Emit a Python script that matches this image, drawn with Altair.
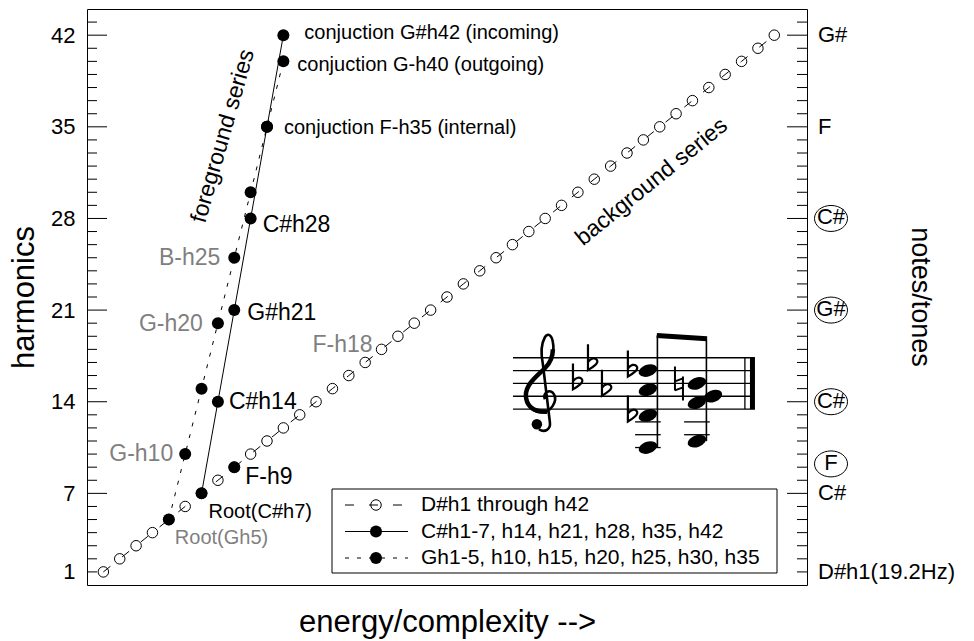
import altair as alt
import pandas as pd

FONT = "Liberation Sans"
GRAY = "#7f7f7f"
BLACK = "black"

# ------------------------------------------------------------------ data
# background series: every harmonic of D# from h1 to h42
bg_energy = [1, 2, 3, 4, 5, 6, 7, 8, 9, 10, 11, 12, 13, 14, 15, 16, 17, 18, 19, 20, 21,
             22, 23, 24, 25, 26, 27, 28, 29, 30, 31, 32, 33, 34, 35, 36, 37, 38, 39, 40, 41, 42]
bg_harmonic = [1, 2, 3, 4, 5, 6, 7, 8, 9, 10, 11, 12, 13, 14, 15, 16, 17, 18, 19, 20, 21,
               22, 23, 24, 25, 26, 27, 28, 29, 30, 31, 32, 33, 34, 35, 36, 37, 38, 39, 40, 41, 42]

# foreground C# series: root at h7, then every 7th harmonic
cs_energy = [7, 8, 9, 10, 11, 12]
cs_harmonic = [7, 14, 21, 28, 35, 42]

# foreground G series: root at h5, then every 5th harmonic
g_energy = [5, 6, 7, 8, 9, 10, 11, 12]
g_harmonic = [5, 10, 15, 20, 25, 30, 35, 40]

# F at h9 sitting on the background series
f_energy = [9]
f_harmonic = [9]

# left axis labels and inward tick marks
harmonic_labels = [1, 7, 14, 21, 28, 35, 42]
major_ticks = [7, 14, 21, 28, 35, 42]
minor_ticks = [h for h in range(1, 44) if h not in major_ticks]

# right-hand note names
note_harmonic = [42, 35, 7, 1]
note_name = ["G#", "F", "C#", "D#h1(19.2Hz)"]
circled_harmonic = [28, 21, 14, 9.25]
circled_name = ["C#", "G#", "C#", "F"]

# point annotations: text, energy, harmonic
point_labels = [
    ("conjuction G#h42 (incoming)", 12, 42),
    ("conjuction G-h40 (outgoing)", 12, 40),
    ("conjuction F-h35 (internal)", 11, 35),
    ("C#h28", 10, 28),
    ("B-h25", 9, 25),
    ("G#h21", 9, 21),
    ("G-h20", 8, 20),
    ("F-h18", 18, 18),
    ("C#h14", 8, 14),
    ("G-h10", 6, 10),
    ("F-h9", 9, 9),
    ("Root(C#h7)", 7, 7),
    ("Root(Gh5)", 5, 5),
]
# colour, font size, alignment and pixel offset of each annotation
label_style = {
    "conjuction G#h42 (incoming)": (BLACK, 20, "left", 21, -2),
    "conjuction G-h40 (outgoing)": (BLACK, 20, "left", 14, 4),
    "conjuction F-h35 (internal)": (BLACK, 20, "left", 17, 1),
    "C#h28": (BLACK, 23, "left", 12, 7),
    "B-h25": (GRAY, 23, "right", -14, 0),
    "G#h21": (BLACK, 23, "left", 13, 3),
    "G-h20": (GRAY, 23, "right", -15, 1),
    "F-h18": (GRAY, 23, "right", -9, -4),
    "C#h14": (BLACK, 23, "left", 11, 0),
    "G-h10": (GRAY, 23, "right", -12, 0),
    "F-h9": (BLACK, 23, "left", 11, 10),
    "Root(C#h7)": (BLACK, 20, "left", 7, 19),
    "Root(Gh5)": (GRAY, 20, "left", 6, 18),
}

legend_labels = ["D#h1 through h42",
                 "C#h1-7, h14, h21, h28, h35, h42",
                 "Gh1-5, h10, h15, h20, h25, h30, h35"]

# score: E-flat key signature, two beamed chords
STAFF_STEP = {"F3": -6, "G3": -5, "A3": -4, "B3": -3, "C4": -2, "D4": -1, "E4": 0,
              "F4": 1, "G4": 2, "A4": 3, "B4": 4, "C5": 5, "D5": 6, "E5": 7, "F5": 8}
key_flats = ["B4", "E5", "A4"]
chord1 = ["F3", "D4", "A4", "D5"]
chord1_flats = ["D4", "D5"]
chord2 = ["G3", "F4", "B4"]
chord2_far_side = ["G4"]
chord2_naturals = ["B4"]

# ------------------------------------------------------------------ scales and axes
xs = alt.Scale(domain=[0, 44], nice=False, zero=False)
ys = alt.Scale(domain=[0, 44], nice=False, zero=False)

x_axis = alt.Axis(title="energy/complexity -->", labels=False, ticks=False, domain=False,
                  grid=False, titleFont=FONT, titleFontSize=31, titleFontWeight="normal",
                  titleColor=BLACK, titleY=46, titleBaseline="alphabetic")
y_axis = alt.Axis(values=harmonic_labels, title="harmonics", ticks=False, domain=False,
                  grid=False, labelFont=FONT, labelFontSize=22, labelColor=BLACK,
                  labelPadding=12, titleFont=FONT, titleFontSize=31,
                  titleFontWeight="normal", titleColor=BLACK, titleX=-54, titleY=288,
                  titleAngle=270, titleBaseline="alphabetic", titleAlign="center")


def X(field="energy"):
    return alt.X(f"{field}:Q", scale=xs, axis=x_axis, title="energy/complexity -->")


def Y(field="harmonic"):
    return alt.Y(f"{field}:Q", scale=ys, axis=y_axis, title="harmonics")


def xy_frame(energy, harmonic):
    return pd.DataFrame({"energy": energy, "harmonic": harmonic})


layers = []

# ------------------------------------------------------------------ series
bg = xy_frame(bg_energy, bg_harmonic)
cs = xy_frame(cs_energy, cs_harmonic)
gs = xy_frame(g_energy, g_harmonic)
layers.append(alt.Chart(bg).mark_line(color=BLACK, strokeWidth=1, strokeDash=[9, 15]).encode(x=X(), y=Y()))
layers.append(alt.Chart(cs).mark_line(color=BLACK, strokeWidth=1).encode(x=X(), y=Y()))
layers.append(alt.Chart(gs).mark_line(color=BLACK, strokeWidth=1, strokeDash=[4, 8]).encode(x=X(), y=Y()))

layers.append(alt.Chart(bg).mark_point(shape="circle", filled=False, size=110, strokeWidth=1,
                                       color=BLACK, opacity=1).encode(x=X(), y=Y()))
for df in (cs, gs, xy_frame(f_energy, f_harmonic)):
    layers.append(alt.Chart(df).mark_point(shape="circle", filled=True, size=144,
                                           color=BLACK, opacity=1).encode(x=X(), y=Y()))

# ------------------------------------------------------------------ inward ticks
for ticks, length in ((minor_ticks, 10), (major_ticks, 20)):
    tdf = pd.DataFrame({"harmonic": ticks})
    layers.append(alt.Chart(tdf).mark_rule(color=BLACK, strokeWidth=1).encode(
        y=Y(), x=alt.value(0), x2=alt.value(length)))
    layers.append(alt.Chart(tdf).mark_rule(color=BLACK, strokeWidth=1).encode(
        y=Y(), x=alt.value(720), x2=alt.value(720 - length)))

# ------------------------------------------------------------------ annotations
for text, e, h in point_labels:
    color, size, align, dx, dy = label_style[text]
    layers.append(alt.Chart(pd.DataFrame({"energy": [e], "harmonic": [h], "label": [text]}))
                  .mark_text(font=FONT, fontSize=size, color=color, align=align,
                             baseline="middle", dx=dx, dy=dy)
                  .encode(x=X(), y=Y(), text="label:N"))

series_titles = pd.DataFrame({"energy": [8.3, 34.5], "harmonic": [34.3, 30.8],
                              "label": ["foreground series", "background series"]})
for i, angle in enumerate((286, 321)):
    layers.append(alt.Chart(series_titles.iloc[[i]]).mark_text(
        font=FONT, fontSize=23, color=BLACK, align="center", baseline="middle", angle=angle)
        .encode(x=X(), y=Y(), text="label:N"))

# right-hand note names
notes = pd.DataFrame({"harmonic": note_harmonic, "label": note_name})
layers.append(alt.Chart(notes).mark_text(font=FONT, fontSize=22, color=BLACK, align="left",
                                         baseline="middle")
              .encode(y=Y(), x=alt.value(731), text="label:N"))
circled = pd.DataFrame({"harmonic": circled_harmonic, "label": circled_name})
layers.append(alt.Chart(circled).mark_text(font=FONT, fontSize=22, color=BLACK, align="center",
                                           baseline="middle", dy=-1)
              .encode(y=Y(), x=alt.value(744), text="label:N"))
ELLIPSE = "M -16.5 0 A 16.5 13 0 1 1 16.5 0 A 16.5 13 0 1 1 -16.5 0 Z"
layers.append(alt.Chart(circled).mark_point(shape=ELLIPSE, size=4, filled=False, color=BLACK,
                                            strokeWidth=1, opacity=1)
              .encode(y=Y(), x=alt.value(744)))

layers.append(alt.Chart(pd.DataFrame({"label": ["notes/tones"]})).mark_text(
    font=FONT, fontSize=27, color=BLACK, angle=90, align="center", baseline="alphabetic")
    .encode(x=alt.value(825), y=alt.value(288), text="label:N"))

# ------------------------------------------------------------------ legend
legend_box = pd.DataFrame({"k": [0]})
layers.append(alt.Chart(legend_box).mark_rect(fill="white", stroke=BLACK, strokeWidth=1).encode(
    x=alt.value(245), x2=alt.value(690), y=alt.value(480), y2=alt.value(564)))
legend_rows = [([9, 15], False), (None, True), ([4, 8], True)]
for i, (dash, filled) in enumerate(legend_rows):
    row_y = 496 + i * 26.5
    rdf = pd.DataFrame({"label": [legend_labels[i]]})
    rule_kw = dict(color=BLACK, strokeWidth=1)
    if dash:
        rule_kw["strokeDash"] = dash
    layers.append(alt.Chart(rdf).mark_rule(**rule_kw).encode(
        x=alt.value(258), x2=alt.value(321), y=alt.value(row_y)))
    layers.append(alt.Chart(rdf).mark_point(shape="circle", filled=filled,
                                            size=144 if filled else 110, strokeWidth=1,
                                            color=BLACK, opacity=1)
                  .encode(x=alt.value(289), y=alt.value(row_y)))
    layers.append(alt.Chart(rdf).mark_text(font=FONT, fontSize=21, color=BLACK, align="left",
                                           baseline="middle")
                  .encode(x=alt.value(334), y=alt.value(row_y), text="label:N"))

# ------------------------------------------------------------------ score inset
STAFF_E0, STAFF_H0 = 26.03, 13.44      # left end of the bottom staff line
SPACE_E, HALF_H = 0.784, 0.49          # one staff space across, half a space up


def sx(u):
    return STAFF_E0 + u * SPACE_E


def sy(step):
    return STAFF_H0 + step * HALF_H


CLEF_U, KEY_U = 2.49, [4.99, 6.16, 7.25]
ACC1_U, CHORD1_U, STEM1_U = 9.27, 10.52, 11.26
NAT_U, CHORD2_U, STEM2_U, FAR_U = 12.94, 14.34, 15.08, 15.59
BAR_U, BAR_THICK_U, STAFF_END_U = 18.08, 18.67, 18.86
BEAM_STEPS = (11.47, 10.95)

staff = pd.DataFrame({"energy": sx(0), "energy2": sx(STAFF_END_U), "harmonic": [sy(s) for s in (0, 2, 4, 6, 8)]})
layers.append(alt.Chart(staff).mark_rule(color=BLACK, strokeWidth=1.3).encode(
    x=X(), x2="energy2:Q", y=Y()))

ledgers = []
for pitches, u in ((chord1, CHORD1_U), (chord2, CHORD2_U)):
    low = min(STAFF_STEP[p] for p in pitches)
    for s in range(-2, low - 1, -2):
        ledgers.append({"energy": sx(u - 1.0), "energy2": sx(u + 1.0), "harmonic": sy(s)})
layers.append(alt.Chart(pd.DataFrame(ledgers)).mark_rule(color=BLACK, strokeWidth=1.3).encode(
    x=X(), x2="energy2:Q", y=Y()))

bars = pd.DataFrame({"energy": [sx(BAR_U)], "harmonic": [sy(0)], "harmonic2": [sy(8)]})
layers.append(alt.Chart(bars).mark_rule(color=BLACK, strokeWidth=1.3).encode(x=X(), y=Y(), y2="harmonic2:Q"))
thick = pd.DataFrame({"energy": [sx(BAR_THICK_U)], "harmonic": [sy(0)], "harmonic2": [sy(8)]})
layers.append(alt.Chart(thick).mark_rule(color=BLACK, strokeWidth=5).encode(x=X(), y=Y(), y2="harmonic2:Q"))

stems = pd.DataFrame({
    "energy": [sx(STEM1_U), sx(STEM2_U)],
    "harmonic": [sy(min(STAFF_STEP[p] for p in chord1)), sy(min(STAFF_STEP[p] for p in chord2))],
    "harmonic2": [sy(BEAM_STEPS[0]), sy(BEAM_STEPS[1])]})
layers.append(alt.Chart(stems).mark_rule(color=BLACK, strokeWidth=1.6).encode(x=X(), y=Y(), y2="harmonic2:Q"))
beam = pd.DataFrame({"energy": [sx(STEM1_U - 0.05)], "energy2": [sx(STEM2_U + 0.05)],
                     "harmonic": [sy(BEAM_STEPS[0])], "harmonic2": [sy(BEAM_STEPS[1])]})
layers.append(alt.Chart(beam).mark_rule(color=BLACK, strokeWidth=5, strokeCap="butt").encode(
    x=X(), x2="energy2:Q", y=Y(), y2="harmonic2:Q"))

NOTEHEAD = "M -9 3.3 A 9.6 6.2 -20 0 1 9 -3.3 A 9.6 6.2 -20 0 1 -9 3.3 Z"
heads = ([{"energy": sx(CHORD1_U), "harmonic": sy(STAFF_STEP[p])} for p in chord1]
         + [{"energy": sx(CHORD2_U), "harmonic": sy(STAFF_STEP[p])} for p in chord2]
         + [{"energy": sx(FAR_U), "harmonic": sy(STAFF_STEP[p])} for p in chord2_far_side])
layers.append(alt.Chart(pd.DataFrame(heads)).mark_point(shape=NOTEHEAD, size=4, filled=True,
                                                       color=BLACK, opacity=1).encode(x=X(), y=Y()))

FLAT = "M -4 -20 L -4 6 C 1 3 7 -1 5 -4 C 3 -7 -1 -6 -4 -2"
flats = ([{"energy": sx(u), "harmonic": sy(STAFF_STEP[p])} for p, u in zip(key_flats, KEY_U)]
         + [{"energy": sx(ACC1_U), "harmonic": sy(STAFF_STEP[p])} for p in chord1_flats])
layers.append(alt.Chart(pd.DataFrame(flats)).mark_point(shape=FLAT, size=4, filled=False,
                                                       color=BLACK, strokeWidth=2.2, opacity=1)
              .encode(x=X(), y=Y()))
NATURAL = "M -4 -17 L -4 7 M 4 -7 L 4 17 M -4 -2 L 4 -5 M -4 7 L 4 4"
naturals = [{"energy": sx(NAT_U), "harmonic": sy(STAFF_STEP[p])} for p in chord2_naturals]
layers.append(alt.Chart(pd.DataFrame(naturals)).mark_point(shape=NATURAL, size=4, filled=False,
                                                          color=BLACK, strokeWidth=2, opacity=1)
              .encode(x=X(), y=Y()))

# treble clef: whole stroke, then the heavy body curve drawn again thicker
CLEF = ("M 0 3 C -3 -4 6 -8 9 -2 C 13 5 6 16 -3 16 C -12 16 -19 9 -19 -1 "
        "C -19 -12 -8 -20 0 -28 C 6 -34 10 -44 8 -54 C 7 -61 3 -64 0 -59 "
        "C -4 -52 -4 -42 -2 -32 L 5 26 C 6 33 0 37 -6 33")
CLEF_BODY = "M 2 15.5 C -12 16 -19 9 -19 -1 C -19 -12 -8 -20 0 -28 C 5 -33 8 -40 8 -47"
clef = pd.DataFrame({"energy": [sx(CLEF_U)], "harmonic": [sy(STAFF_STEP["G4"])]})
layers.append(alt.Chart(clef).mark_point(shape=CLEF, size=4, filled=False, color=BLACK,
                                         strokeWidth=2.6, opacity=1).encode(x=X(), y=Y()))
layers.append(alt.Chart(clef).mark_point(shape=CLEF_BODY, size=4, filled=False, color=BLACK,
                                         strokeWidth=4.5, opacity=1).encode(x=X(), y=Y()))
layers.append(alt.Chart(clef).mark_point(shape="circle", size=110, filled=True, color=BLACK,
                                         opacity=1, xOffset=-8, yOffset=28).encode(x=X(), y=Y()))

chart = alt.layer(*layers).properties(
    width=720, height=576,
    background="white",
    autosize=alt.AutoSizeParams(type="none"),
    padding={"left": 87, "top": 9, "right": 167, "bottom": 56},
).configure_view(stroke=BLACK, strokeWidth=1)

chart.save("out.html", embed_options={"renderer": "svg", "actions": False})
